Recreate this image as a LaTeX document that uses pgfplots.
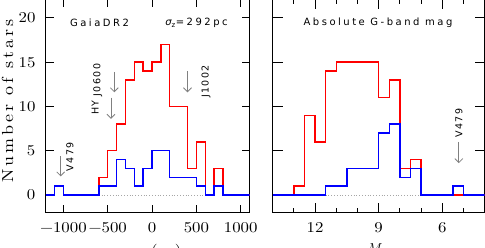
\documentclass[border=0pt]{standalone}
\usepackage{pgfplots}
\pgfplotsset{compat=1.18}
\usepackage{fontspec}
\usetikzlibrary{arrows.meta}
\newfontfamily\hroman{lmroman10-regular}[Extension=.otf, FakeStretch=1.12]
\newfontfamily\hlabel{lmroman10-regular}[Extension=.otf, FakeStretch=1.12, LetterSpace=19]
\newfontfamily\hsans{DejaVu Sans}[LetterSpace=25]
\newfontfamily\hsmall{DejaVu Sans}[LetterSpace=15]
\tikzset{arr/.style={gray, line width=0.8pt, -{Straight Barb[length=4pt,width=8pt]}},
  lab/.style={rotate=90, font=\hsmall\fontsize{9.5}{9.5}\selectfont}}
\begin{document}
\begin{tikzpicture}
\pgfplotsset{
  every axis/.append style={
    scale only axis,
    axis line style={line width=0.9pt},
    every tick/.append style={black, line width=0.8pt},
    tick align=inside,
    ymin=-2, ymax=22.1,
    ytick={0,5,10,15,20},
    tick label style={font=\hroman\fontsize{15}{15}\selectfont},
    xticklabel style={inner sep=0pt, yshift=-10pt},
    yticklabel style={inner sep=0pt, xshift=-10pt},
  },
  hist/.style={const plot, mark=none, line width=1.4pt},
}
% ---------------- left panel ----------------
\begin{axis}[
  name=L, at={(45.6pt,34.3pt)}, anchor=south west,
  width=204pt, height=213.4pt,
  xmin=-1200, xmax=1100,
  xtick={-1000,-500,0,500,1000},
  xticklabels={−1000,−500,0,500,1000},
  yticklabels={0,5,10,15,20},
  major tick length=8pt,
  xlabel={$z$ (pc)},
  xlabel style={at={(axis description cs:0.56,0)}, anchor=north, inner sep=0pt, yshift=-31pt, font=\hroman\fontsize{15}{15}\selectfont},
  ylabel={Number of stars},
  ylabel style={at={(axis description cs:-0.187,0.523)}, anchor=center, inner sep=0pt, font=\hlabel\fontsize{16}{16}\selectfont},
]
\addplot[gray!70, dotted, line width=0.8pt] coordinates {(-600,0) (700,0)};
\addplot[hist, red] coordinates {
  (-650,0) (-600,2) (-500,5) (-400,8) (-300,13) (-200,15) (-100,14)
  (0,15) (100,17) (200,10) (400,3) (500,6) (600,0) (700,3) (800,0) (1100,0)};
\addplot[hist, blue] coordinates {
  (-1200,0) (-1100,1) (-1000,0) (-600,1) (-400,4) (-300,3) (-200,1)
  (-100,3) (0,5) (200,2) (500,1) (600,0) (700,1) (800,0) (1100,0)};
\draw[arr] (axis cs:-1030,4.4) -- (axis cs:-1030,2.1);
\draw[arr] (axis cs:-463,11.0) -- (axis cs:-463,8.6);
\draw[arr] (axis cs:-425,13.9) -- (axis cs:-425,11.6);
\draw[arr] (axis cs:400,14.0) -- (axis cs:400,11.6);
\node[lab] at (axis cs:-925,4.3) {V479};
\node[lab] at (axis cs:-640,9.86) {HY};
\node[lab] at (axis cs:-612,13.0) {J0600};
\node[lab] at (axis cs:608,12.8) {J1002};
\node[font=\hsans\fontsize{10}{10}\selectfont] at (axis cs:-592,19.4) {GaiaDR2};
\node[font=\hsans\fontsize{10}{10}\selectfont] at (axis cs:501,19.4) {{\itshape σ}\textsubscript{z}=292pc};
\end{axis}
% ---------------- right panel ----------------
\begin{axis}[
  name=R, at={(272.6pt,34.3pt)}, anchor=south west,
  width=212.1pt, height=213.4pt,
  xmin=4, xmax=14, x dir=reverse,
  xtick={6,9,12}, xticklabels={6,9,12},
  minor xtick={5,7,8,10,11,13},
  yticklabels={},
  major tick length=10pt, minor tick length=5pt,
  xlabel={$M_G$},
  xlabel style={at={(axis description cs:0.5,0)}, anchor=north, inner sep=0pt, yshift=-31pt, font=\hroman\fontsize{15}{15}\selectfont},
]
\addplot[gray!70, dotted, line width=0.8pt] coordinates {(11.5,0) (5.5,0)};
\addplot[hist, red] coordinates {
  (13.5,0) (13,1) (12.5,9) (12,6) (11.5,14) (11,15) (9,11) (8.5,13)
  (8,3) (7.5,4) (7,0) (4,0)};
\addplot[hist, blue] coordinates {
  (14,0) (11.5,1) (10.5,3) (9,7) (8.5,8) (8,2) (7.5,3) (7,0)
  (5.5,1) (5,0) (4,0)};
\draw[arr] (axis cs:5.22,6.0) -- (axis cs:5.22,3.6);
\node[lab] at (axis cs:5.22,8.1) {V479};
\node[font=\hsans\fontsize{10}{10}\selectfont] at (axis cs:9.03,19.45) {Absolute G-band mag};
\end{axis}
\pgfresetboundingbox
\useasboundingbox (0,0) rectangle (485pt,247pt);
\end{tikzpicture}
\end{document}
